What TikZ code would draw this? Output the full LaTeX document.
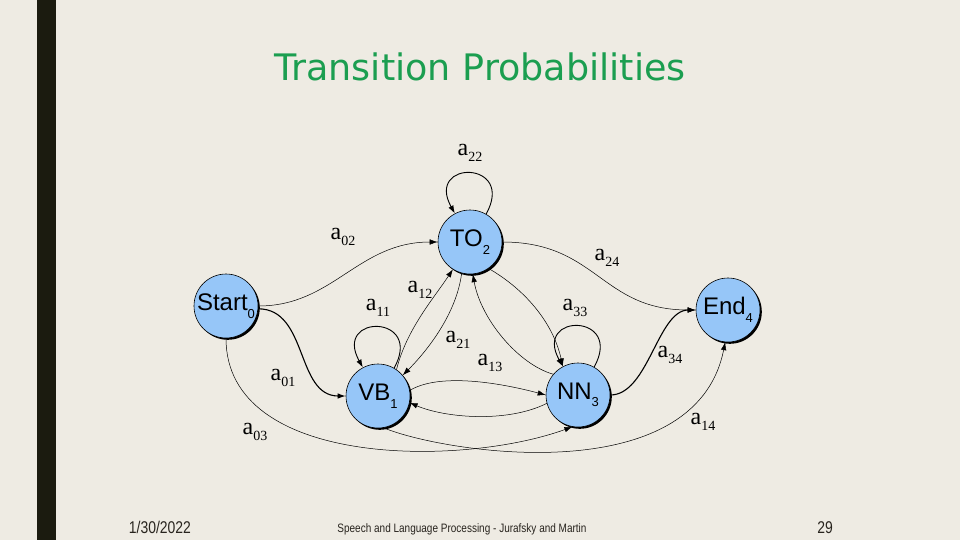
\documentclass[tikz,border=0pt]{standalone}
\usepackage{fontspec}
\setmainfont{Liberation Serif}
\newfontfamily\statefont{Liberation Sans}
\newfontfamily\titlefont{DejaVu Sans}
\newfontfamily\footfont[FakeStretch=0.82]{Liberation Sans}
\usetikzlibrary{arrows.meta,shadows}
\definecolor{slidebg}{RGB}{238,235,227}
\definecolor{slidebar}{RGB}{27,27,15}
\definecolor{titlegreen}{RGB}{27,158,80}
\definecolor{statefill}{RGB}{150,198,248}
\definecolor{foottext}{RGB}{40,36,30}
\newcommand\prob[1]{a\raisebox{-.55ex}{\fontsize{14}{14}\selectfont#1}}
\newcommand\stname[2]{#1\raisebox{-.6ex}{\fontsize{13}{13}\selectfont#2}}
\tikzset{
  state/.style={circle, draw, line width=.6pt, fill=statefill, minimum size=64pt,
    inner sep=0pt, font=\statefont\fontsize{24}{24}\selectfont,
    drop shadow={shadow xshift=1.8pt, shadow yshift=-1.8pt, fill=black, opacity=1}},
  prob/.style={inner sep=0pt, font=\fontsize{24}{24}\selectfont},
  edge/.style={draw, line width=.5pt, -{Latex[length=8pt,width=5.5pt]}},
  boldedge/.style={edge, line width=1.1pt},
  selfloop/.style={edge, line width=.9pt},
  foot/.style={text=foottext, anchor=base}
}
\begin{document}
\begin{tikzpicture}[x=1pt, y=-1pt]
\fill[slidebg] (0,0) rectangle (960,540);
\useasboundingbox (0,0) rectangle (960,540);
\fill[slidebar] (37,0) rectangle (56,540);
\node[anchor=base, text=titlegreen, font=\titlefont\fontsize{36.5}{36.5}\selectfont] (title) at (480,81) {Transition Probabilities};
% states
\node[state] (start) at (226,306) {\stname{Start}{0}};
\node[state] (to) at (470,242) {\stname{TO}{2}};
\node[state] (end) at (728,310) {\stname{End}{4}};
\node[state] (vb) at (378,396) {\stname{VB}{1}};
\node[state] (nn) at (578,395) {\stname{NN}{3}};
% transitions
\draw[edge] (start.east) .. controls +(75,0) and +(-80,0) .. (to.west);
\draw[edge] (to.east) .. controls +(95,0) and +(-95,0) .. (end.west);
\draw[boldedge] (start.-5) .. controls +(50,0) and +(-50,0) .. (vb.west);
\draw[edge] (start.south) .. controls +(0,130) and +(-110,40) .. (nn.-100);
\draw[edge] (vb.-80) .. controls +(60,25) and +(-30,150) .. (end.-95);
\draw[edge] (vb.55) .. controls +(10,-40) and +(-20,30) .. (to.-122);
\draw[edge] (to.-105) .. controls +(-5,40) and +(25,-25) .. (vb.40);
\draw[edge] (nn.140) .. controls +(-35,-10) and +(8,45) .. (to.-85);
\draw[edge] (to.-55) .. controls +(35,20) and +(-10,-45) .. (nn.118);
\draw[edge] (vb.10) .. controls +(30,-18) and +(-45,-12) .. (nn.west);
\draw[edge] (nn.-165) .. controls +(-40,20) and +(35,15) .. (vb.-12);
\draw[boldedge] (nn.east) .. controls +(38,0) and +(-38,0) .. (end.west);
\foreach \n in {to,vb,nn}
  \draw[selfloop] (\n.60) .. controls +(30,-54) and +(-30,-54) .. (\n.118);
% labels
\node[prob] (p22) at (470,153) {\prob{22}};
\node[prob] (p02) at (343,237) {\prob{02}};
\node[prob] (p24) at (607,258) {\prob{24}};
\node[prob] (p12) at (420,290) {\prob{12}};
\node[prob] (p11) at (378,308) {\prob{11}};
\node[prob] (p33) at (575,308) {\prob{33}};
\node[prob] (p21) at (458,340) {\prob{21}};
\node[prob] (p13) at (490,363) {\prob{13}};
\node[prob] (p34) at (670,355) {\prob{34}};
\node[prob] (p01) at (283,378) {\prob{01}};
\node[prob] (p03) at (255,432) {\prob{03}};
\node[prob] (p14) at (703,422) {\prob{14}};
% footer
\node[foot, font=\footfont\fontsize{17}{17}\selectfont] (date) at (160,533) {1/30/2022};
\node[foot, font=\footfont\fontsize{12.2}{12.2}\selectfont] (source) at (462,532) {Speech and Language Processing - Jurafsky and Martin};
\node[foot, font=\footfont\fontsize{17}{17}\selectfont] (page) at (825,533) {29};
\end{tikzpicture}
\end{document}
